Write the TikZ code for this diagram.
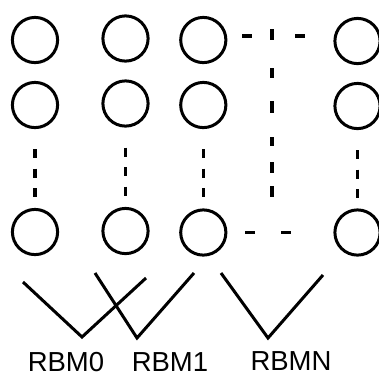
\documentclass[tikz,border=0pt]{standalone}
\usepackage{fontspec}
\setmainfont{Liberation Sans}
\usepackage{tikz}

\begin{document}
\begin{tikzpicture}[x=1pt,y=-1pt,line width=3pt,main node/.style={circle,draw,minimum size=45.2pt,inner sep=0pt},gap line/.style={line width=3.5pt,dash pattern=on 9pt off 10.5pt,shorten <=20pt,shorten >=10pt},label node/.style={anchor=base,inner sep=0pt,font=\fontsize{27.5}{32}\selectfont}]
    \useasboundingbox (0,0) rectangle (379,376);
    \node[main node] (00) at (35,40) {};
    \node[main node] (01) at (35,105) {};
    \node[main node] (02) at (35,232) {};
    \node[main node] (10) at (125.5,38.5) {};
    \node[main node] (11) at (125.5,103.5) {};
    \node[main node] (12) at (125.5,231) {};
    \node[main node] (20) at (203.3,40) {};
    \node[main node] (21) at (203.3,105) {};
    \node[main node] (22) at (203.3,232.5) {};
    \node[main node] (n0) at (357.5,41) {};
    \node[main node] (n1) at (357.5,106) {};
    \node[main node] (n2) at (357.5,232.5) {};
    \coordinate (vtop) at (272,29);
    \coordinate (vbot) at (272,197);
    % dotted gaps
    \draw[gap line] (01) -- (02);
    \draw[gap line] (11) -- (12);
    \draw[gap line] (21) -- (22);
    \draw[gap line] (n1) -- (n2);
    \draw[line width=3.5pt,dash pattern=on 10pt off 43pt,shorten <=15pt] ([yshift=4pt]20.east) -- ([yshift=5pt]n0.west);
    \draw[line width=3.5pt,dash pattern=on 10pt off 26pt,shorten <=18pt,shorten >=40pt] (22) -- (n2);
    \draw[line width=3.5pt,dash pattern=on 11pt off 28pt on 10pt off 23pt on 12pt off 24pt on 9pt off 16pt on 11pt off 13pt on 11pt] (vtop) -- (vbot);
    % rbm brackets
    \draw (23,282) -- (82,337) -- (146,278);
    \draw (95,273) -- (137,338) -- (194,273);
    \draw (221,273) -- (268,338) -- (323,275);
    \node[label node] (rbm0) at (66,371) {RBM0};
    \node[label node] (rbm1) at (170,371) {RBM1};
    \node[label node] (rbmn) at (291,370) {RBMN};
\end{tikzpicture}
\end{document}
